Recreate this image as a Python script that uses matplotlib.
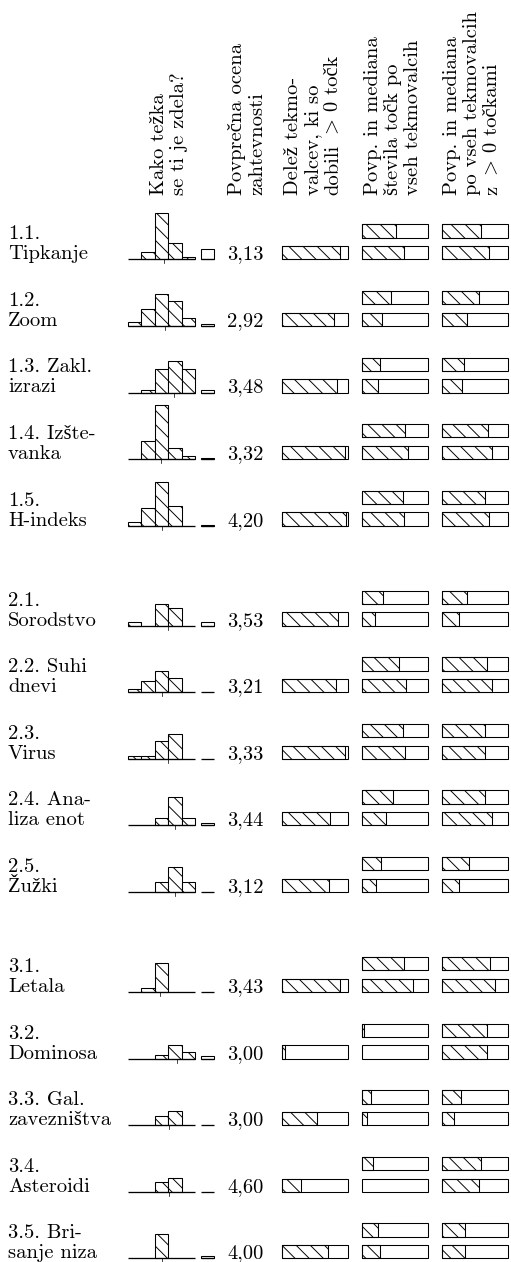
import numpy as np
import matplotlib
matplotlib.use("Agg")
import matplotlib.pyplot as plt
from matplotlib.patches import Rectangle

plt.rcParams['font.family'] = ['cmr10', 'Liberation Serif']
plt.rcParams['mathtext.fontset'] = 'cm'
plt.rcParams['hatch.linewidth'] = 0.8
plt.rcParams['axes.unicode_minus'] = False

# ---------------- data ----------------
labels = ["1.1.\nTipkanje", "1.2.\nZoom", "1.3. Zakl.\nizrazi", "1.4. Izšte-\nvanka",
          "1.5.\nH-indeks", "2.1.\nSorodstvo", "2.2. Suhi\ndnevi", "2.3.\nVirus",
          "2.4. Ana-\nliza enot", "2.5.\nŽužki", "3.1.\nLetala", "3.2.\nDominosa",
          "3.3. Gal.\nzavezništva", "3.4.\nAsteroidi", "3.5. Bri-\nsanje niza"]
groups = [0, 0, 0, 0, 0, 1, 1, 1, 1, 1, 2, 2, 2, 2, 2]

# survey "Kako težka se ti je zdela?" - relative frequency of each answer (5 bins)
hist = [
    [0.0, 7.7, 46.7, 16.7, 2.7],
    [3.7, 17.0, 32.0, 24.7, 8.0],
    [0.0, 2.3, 23.3, 32.0, 24.0],
    [0.0, 17.7, 54.3, 10.7, 2.7],
    [3.3, 18.0, 43.7, 19.3, 0.0],
    [3.7, 0.0, 21.7, 17.7, 0.0],
    [3.7, 11.0, 21.7, 14.0, 0.0],
    [3.0, 3.0, 18.0, 25.0, 0.0],
    [0.0, 0.0, 7.3, 28.7, 7.3],
    [0.0, 0.0, 10.3, 25.3, 10.3],
    [0.0, 3.7, 28.7, 0.0, 0.0],
    [0.0, 0.0, 3.3, 14.0, 6.7],
    [0.0, 0.0, 9.7, 14.0, 0.0],
    [0.0, 0.0, 9.7, 14.0, 0.0],
    [0.0, 0.0, 24.7, 0.0, 0.0],
]
no_answer = [10.0, 2.0, 2.3, 1.0, 1.0, 3.3, 0.0, 0.0, 2.7, 0.0, 0.0, 2.3, 0.0, 0.0, 2.3]

avg_rating = [3.13, 2.92, 3.48, 3.32, 4.20, 3.53, 3.21, 3.33, 3.44, 3.12,
              3.43, 3.00, 3.00, 4.60, 4.00]

share_scored = [0.875, 0.79, 0.835, 0.95, 0.965, 0.84, 0.815, 0.945, 0.73, 0.705,
                0.88, 0.05, 0.525, 0.29, 0.70]
mean_all = [0.51, 0.435, 0.27, 0.65, 0.615, 0.315, 0.555, 0.615, 0.465, 0.285,
            0.64, 0.035, 0.145, 0.175, 0.25]
median_all = [0.63, 0.30, 0.25, 0.70, 0.63, 0.195, 0.67, 0.645, 0.37, 0.22,
              0.765, 0.0, 0.075, 0.0, 0.28]
mean_pos = [0.586, 0.556, 0.328, 0.697, 0.652, 0.379, 0.677, 0.657, 0.646, 0.409,
            0.722, 0.677, 0.283, 0.591, 0.348]
median_pos = [0.707, 0.379, 0.298, 0.753, 0.707, 0.258, 0.753, 0.657, 0.753, 0.258,
              0.798, 0.677, 0.192, 0.561, 0.348]

# header lines; a line given as a list is drawn in pieces ("$>$" is the math sign)
headers = [
    ["Kako težka", "se ti je zdela?"],
    ["Povprečna ocena", "zahtevnosti"],
    ["Delež tekmo-", "valcev, ki so", ["dobili", "$>$", "0 točk"]],
    ["Povp. in mediana", "števila točk po", "vseh tekmovalcih"],
    ["Povp. in mediana", "po vseh tekmovalcih", ["z", "$>$", "0 točkami"]],
]

# ---------------- layout (pixels) ----------------
DPI = 85
W, H = 511, 1262
FS = 17.4
EM = FS * DPI / 72.0
LW = 0.9
HATCH = '\\\\'

fig = plt.figure(figsize=(W / DPI, H / DPI), dpi=DPI)
ax = fig.add_axes([0, 0, 1, 1])
ax.set_xlim(0, W)
ax.set_ylim(H, 0)
ax.axis('off')
renderer = fig.canvas.get_renderer()

row0, row_step, group_gap = 259.3, 66.6, 33.4
hist_left, bw = 128.0, 13.4
na_left = hist_left + 5 * bw + 6
num_x = 227.0
share_x, box_w, box_h = 281.7, 66.6, 13.3
col4_x, col5_x = 361.7, 441.7
top_off = 21.7

header_base_y = 195.0
header_x = [[164.5, 184.0], [242.5, 262.0], [298.0, 318.0, 338.0],
            [377.5, 397.5, 418.0], [457.0, 477.0, 497.0]]


def text_width(s):
    t = ax.text(0, 0, s, fontsize=FS)
    w = t.get_window_extent(renderer).width
    t.remove()
    return w


def frac_box(x, ybot, frac):
    if frac > 0:
        ax.add_patch(Rectangle((x, ybot - box_h), frac * box_w, box_h,
                               facecolor='white', edgecolor='black', lw=LW, hatch=HATCH))
    ax.add_patch(Rectangle((x, ybot - box_h), box_w, box_h,
                           facecolor='none', edgecolor='black', lw=LW))


for i, lab in enumerate(labels):
    base = row0 + row_step * i + group_gap * groups[i]
    lines = lab.split("\n")
    for j, ln in enumerate(lines):
        ax.text(8, base - 20 * (len(lines) - 1 - j), ln, fontsize=FS,
                ha='left', va='baseline')

    h = np.array(hist[i])
    lefts = hist_left + bw * np.arange(5)
    nz = h > 0
    ax.bar(lefts[nz], h[nz], width=bw, bottom=base - h[nz], align='edge',
           facecolor='white', edgecolor='black', lw=LW, hatch=HATCH)
    ax.plot([hist_left, hist_left + 5 * bw], [base, base], color='black', lw=1.1,
            solid_capstyle='butt')
    k = np.arange(1, 5)
    m = (k * h[1:]).sum() / h[1:].sum()
    xm = hist_left + (m + 0.5) * bw
    ax.plot([xm, xm], [base, base + 4], color='black', lw=0.6)

    if no_answer[i] > 0:
        ax.bar([na_left], [no_answer[i]], width=bw, bottom=base - no_answer[i],
               align='edge', facecolor='white', edgecolor='black', lw=LW)
    ax.plot([na_left, na_left + bw], [base, base], color='black', lw=1.1,
            solid_capstyle='butt')

    val = f"{avg_rating[i]:.2f}".replace('.', ',')
    ax.text(num_x, base, val, fontsize=FS, ha='left', va='baseline')

    frac_box(share_x, base, share_scored[i])
    frac_box(col4_x, base - top_off, mean_all[i])
    frac_box(col4_x, base, median_all[i])
    frac_box(col5_x, base - top_off, mean_pos[i])
    frac_box(col5_x, base, median_pos[i])

space = 0.333 * EM
for hdr, xs in zip(headers, header_x):
    for ln, x in zip(hdr, xs):
        pieces = ln if isinstance(ln, list) else [ln]
        y = header_base_y
        for p in pieces:
            ax.text(x, y, p, fontsize=FS, rotation=90,
                    rotation_mode='anchor', ha='left', va='baseline')
            y -= text_width(p) + space

fig.savefig("out.png", dpi=DPI)
